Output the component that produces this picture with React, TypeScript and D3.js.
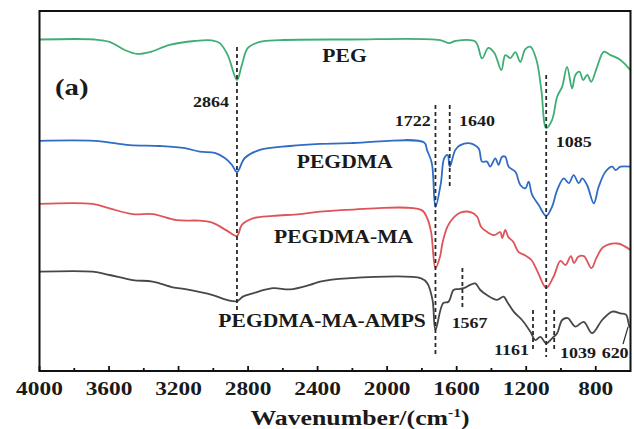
import React from "react";
import * as d3 from "d3";

// ---- Data (wavenumber cm^-1, transmittance in arbitrary offset units) ----
const PEG: [number, number][] = [
  [4000, 110.5], [3683, 110.5], [3597, 109.7], [3510, 107], [3441, 105.7], [3366, 106.3],
  [3251, 108.7], [3107, 110], [3009, 110.2], [2963, 109.3], [2917, 105.3], [2864, 97],
  [2836, 102], [2801, 107.7], [2732, 109.7], [2617, 110.3], [2213, 110.5], [1695, 110.3],
  [1643, 109.3], [1608, 110], [1493, 109.8], [1454, 104.2], [1418, 107.7], [1383, 106],
  [1343, 100.3], [1320, 105.3], [1291, 104.3], [1262, 106.3], [1234, 103], [1205, 107.3],
  [1176, 108.1], [1141, 103.7], [1113, 93.7], [1085, 81], [1051, 83.7], [1022, 91.4],
  [993, 94.8], [965, 101.4], [936, 94.2], [917, 98.7], [894, 99.8], [872, 97], [849, 98.7],
  [826, 96.4], [792, 101.4], [754, 106.4], [715, 105.3], [658, 103.7], [600, 100.3],
];

const PEGDMA: [number, number][] = [
  [4000, 76.7], [3683, 76.7], [3481, 75.3], [3308, 75], [3164, 74.3], [3078, 73.1],
  [2991, 72.7], [2934, 71], [2893, 68.7], [2864, 66.3], [2819, 71], [2732, 73.7],
  [2559, 75], [2386, 75.7], [2196, 76], [1787, 76.2], [1771, 73.7], [1743, 69.3],
  [1722, 54.7], [1691, 62.6], [1672, 70.9], [1652, 72], [1640, 68.1], [1608, 73.7],
  [1579, 75.3], [1522, 75.9], [1474, 74.2], [1454, 69.8], [1426, 69.8], [1407, 68.1],
  [1378, 70.9], [1359, 68.7], [1339, 71.4], [1320, 71.4], [1301, 68.1], [1262, 66.4],
  [1234, 62], [1205, 60.9], [1186, 63.1], [1166, 58.7], [1128, 55.3], [1085, 51.7],
  [1051, 54.8], [1022, 60.3], [984, 64.2], [955, 62.6], [927, 65.3], [898, 62.6],
  [878, 64.2], [850, 62], [811, 55.9], [783, 61.4], [744, 66.4], [705, 68.1], [686, 67],
  [658, 68.1], [600, 68.1],
];

const PEGDMA_MA: [number, number][] = [
  [4000, 55.7], [3695, 55.7], [3597, 54.2], [3464, 52.3], [3349, 52.3], [3210, 50.3],
  [3078, 50.1], [3003, 49.4], [2922, 46.8], [2864, 45], [2836, 48.7], [2772, 50.9],
  [2657, 51.7], [2502, 52.3], [2386, 53.1], [2231, 53.7], [1804, 53.7], [1770, 51],
  [1747, 46.3], [1722, 34.3], [1695, 38.3], [1682, 42.6], [1653, 48.1], [1614, 51.4],
  [1575, 52.9], [1516, 52.9], [1482, 51.4], [1459, 48], [1424, 46.3], [1384, 45.3],
  [1349, 46.3], [1338, 44.3], [1320, 47], [1303, 44.7], [1274, 43], [1245, 39.7],
  [1205, 38.5], [1170, 37], [1136, 33.3], [1085, 27.7], [1043, 31.4], [1003, 36.7],
  [974, 35.3], [943, 38.3], [925, 36], [900, 38.1], [868, 38.3], [825, 34.3], [796, 37.7],
  [756, 41.3], [675, 42.5], [600, 40.3],
];

const PEGDMA_MA_AMPS: [number, number][] = [
  [4000, 33.1], [3695, 33.1], [3597, 32], [3464, 30.3], [3349, 29.8], [3234, 27.9],
  [3153, 27.2], [3003, 25.3], [2922, 23.7], [2864, 23.3], [2830, 24.8], [2772, 25.9],
  [2657, 27.6], [2559, 27.2], [2444, 28.7], [2386, 29.8], [2231, 30.9], [1804, 30.9],
  [1768, 29.2], [1739, 23.7], [1722, 13.7], [1678, 22.6], [1647, 23.1], [1618, 27],
  [1591, 27.3], [1560, 27.6], [1522, 28.7], [1493, 29.2], [1464, 27], [1426, 25.3],
  [1368, 23.7], [1330, 24.8], [1310, 23.1], [1272, 19.8], [1224, 17], [1176, 13.1],
  [1147, 10.3], [1118, 11.4], [1085, 9.2], [1051, 10.9], [1022, 12.6], [993, 17],
  [961, 17.6], [917, 14.8], [869, 16.4], [821, 12.6], [763, 17], [705, 19.8], [658, 19.2],
  [625, 18.7], [606, 14.8], [600, 14.7],
];

const SERIES_NAMES = ["PEG", "PEGDMA", "PEGDMA-MA", "PEGDMA-MA-AMPS"];
const SERIES_DATA = [PEG, PEGDMA, PEGDMA_MA, PEGDMA_MA_AMPS];
const SERIES_COLORS = ["#3fae74", "#2f6cc4", "#de5458", "#474747"];

// series name label anchors (wavenumber, value)
const NAME_LABEL_POS: [number, number][] = [
  [2373, 103.1], [2520, 67.6], [2651, 42.6], [2971, 14.8],
];

// peak marker lines: wavenumber, from value, to value
const PEAK_WN = [2864, 1722, 1640, 1085, 1567, 1161, 1039];
const PEAK_FROM = [108, 88.7, 88.7, 98.7, 34.3, 20.3, 20.3];
const PEAK_TO = [20.3, 5.3, 61.7, 4.7, 20.3, 6.3, 6.3];

// peak numeric labels: text, anchor wavenumber, value, anchor
const PEAK_LABEL_TEXT = ["2864", "1722", "1640", "1085", "1567", "1161", "1039", "620"];
const PEAK_LABEL_WN = [2910, 1749, 1587, 1030, 1629, 1385, 1006, 766];
const PEAK_LABEL_VAL = [88, 81.7, 81.7, 74.8, 14.4, 5.3, 4.2, 4.2];
const PEAK_LABEL_ANCHOR = ["end", "end", "start", "start", "start", "start", "start", "start"];

// 620 leader line
const LEADER_620: [number, number][] = [[614, 14.7], [643, 9]];

const X_TICKS = [4000, 3600, 3200, 2800, 2400, 2000, 1600, 1200, 800];
const X_MINOR = [3800, 3400, 3000, 2600, 2200, 1800, 1400, 1000];

const W = 634;
const H = 429;
const LEFT = 39.5;
const RIGHT = 630.5;
const TOP = 11;
const BOTTOM = 371;
const FONT = "'Liberation Serif', 'Times New Roman', serif";
const SX = 1.2;

function SText(props: {
  x: number; y: number; size: number; anchor?: string; children: React.ReactNode;
}) {
  const { x, y, size, anchor = "start", children } = props;
  return (
    <text
      transform={`translate(${x},${y}) scale(${SX},1)`}
      fontFamily={FONT}
      fontWeight="bold"
      fontSize={size}
      textAnchor={anchor as any}
      fill="#1a1a1a"
    >
      {children}
    </text>
  );
}

export default function App() {
  const x = d3.scaleLinear().domain([4000, 600]).range([LEFT, RIGHT]);
  const y = d3.scaleLinear().domain([0, 120]).range([BOTTOM, TOP]);
  const line = d3
    .line<[number, number]>()
    .x((d) => x(d[0]))
    .y((d) => y(d[1]))
    .curve(d3.curveCatmullRom.alpha(0.5));

  return (
    <svg
      width={W}
      height={H}
      style={{ position: "absolute", left: 0, top: 0, background: "#fff" }}
    >
      <rect x={0} y={0} width={W} height={H} fill="#fff" />
      {/* spectra */}
      {SERIES_DATA.map((s, i) => (
        <path
          key={SERIES_NAMES[i]}
          d={line(s) || ""}
          fill="none"
          stroke={SERIES_COLORS[i]}
          strokeWidth={1.8}
          strokeLinejoin="round"
        />
      ))}
      {/* dashed peak lines */}
      {PEAK_WN.map((wn, i) => (
        <line
          key={"pk" + i}
          x1={x(wn)}
          x2={x(wn)}
          y1={y(PEAK_FROM[i])}
          y2={y(PEAK_TO[i])}
          stroke="#2a2a2a"
          strokeWidth={1.8}
          strokeDasharray="4,3"
        />
      ))}
      <line
        x1={x(LEADER_620[0][0])}
        y1={y(LEADER_620[0][1])}
        x2={x(LEADER_620[1][0])}
        y2={y(LEADER_620[1][1])}
        stroke="#2a2a2a"
        strokeWidth={1.2}
      />
      {/* frame */}
      <rect
        x={LEFT}
        y={TOP}
        width={RIGHT - LEFT}
        height={BOTTOM - TOP}
        fill="none"
        stroke="#111"
        strokeWidth={2}
      />
      {/* ticks */}
      {X_TICKS.map((t) => (
        <line key={"mt" + t} x1={x(t)} x2={x(t)} y1={BOTTOM} y2={BOTTOM - 5} stroke="#111" strokeWidth={1.8} />
      ))}
      {X_MINOR.map((t) => (
        <line key={"mn" + t} x1={x(t)} x2={x(t)} y1={BOTTOM} y2={BOTTOM - 3} stroke="#111" strokeWidth={1.8} />
      ))}
      {X_TICKS.map((t) => (
        <SText key={"tl" + t} x={x(t)} y={395} size={19.5} anchor="middle">
          {String(t)}
        </SText>
      ))}
      <SText x={360} y={425} size={21.5} anchor="middle">
        Wavenumber/(cm
        <tspan dy={-8} fontSize={13}>-1</tspan>
        <tspan dy={8}>)</tspan>
      </SText>
      {/* series names */}
      {SERIES_NAMES.map((n, i) => (
        <SText key={"nm" + n} x={x(NAME_LABEL_POS[i][0])} y={y(NAME_LABEL_POS[i][1])} size={18}>
          {n}
        </SText>
      ))}
      {/* peak labels */}
      {PEAK_LABEL_TEXT.map((t, i) => (
        <SText
          key={"pl" + i}
          x={x(PEAK_LABEL_WN[i])}
          y={y(PEAK_LABEL_VAL[i])}
          size={15}
          anchor={PEAK_LABEL_ANCHOR[i]}
        >
          {t}
        </SText>
      ))}
      <SText x={x(3911)} y={y(92)} size={24}>
        (a)
      </SText>
    </svg>
  );
}
